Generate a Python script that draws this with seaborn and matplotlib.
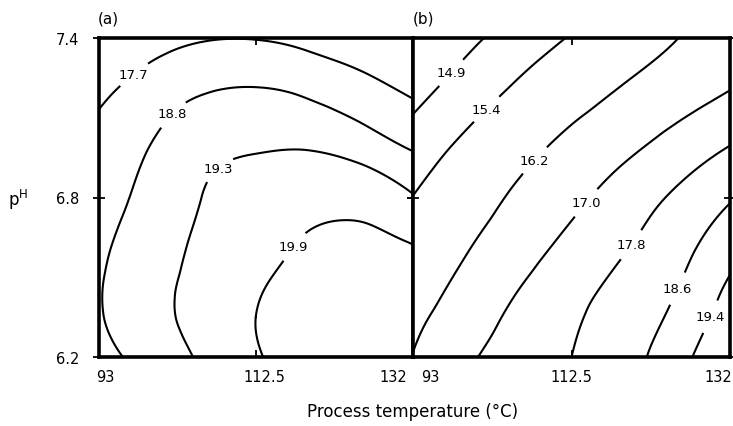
import numpy as np
import matplotlib
matplotlib.use("Agg")
import matplotlib.pyplot as plt
import matplotlib.tri as mtri
import matplotlib.transforms as mtrans
import seaborn as sns

sns.set_style("white")
plt.rcParams['font.family'] = ['DejaVu Sans']
plt.rcParams['text.color'] = 'black'

# response grids (rows: pH, columns: process temperature)
temps = [93, 99.5, 106, 112.5, 119, 125.5, 132]
ph_a = [6.2, 6.35, 6.5, 6.65, 6.8, 6.95, 7.1, 7.25, 7.4]
ph_b = [6.2, 6.4, 6.6, 6.8, 7.0, 7.2, 7.4]

response_a = [
    [18.66, 18.97, 19.39, 19.84, 20.22, 20.36, 20.02],
    [18.76, 19.13, 19.50, 19.90, 20.25, 20.41, 20.17],
    [18.76, 19.12, 19.46, 19.80, 20.10, 20.25, 20.05],
    [18.68, 19.06, 19.38, 19.67, 19.93, 20.02, 19.84],
    [18.51, 18.98, 19.31, 19.54, 19.68, 19.67, 19.34],
    [18.25, 18.87, 19.22, 19.32, 19.36, 19.23, 18.90],
    [17.81, 18.62, 19.02, 19.12, 19.02, 18.73, 18.15],
    [17.04, 18.07, 18.55, 18.64, 18.42, 17.91, 17.08],
    [15.71, 17.01, 17.60, 17.65, 17.28, 16.55, 15.44],
]
response_b = [
    [16.22, 16.87, 17.36, 17.80, 18.31, 19.10, 20.25],
    [15.98, 16.50, 17.10, 17.62, 18.13, 18.69, 19.71],
    [15.71, 16.17, 16.70, 17.24, 17.77, 18.36, 19.13],
    [15.41, 15.84, 16.33, 16.82, 17.35, 17.93, 18.53],
    [15.10, 15.50, 15.93, 16.38, 16.80, 17.28, 17.78],
    [14.75, 15.12, 15.50, 15.89, 16.27, 16.64, 17.01],
    [14.46, 14.79, 15.11, 15.44, 15.81, 16.19, 16.57],
]

levels_a = [17.7, 18.8, 19.3, 19.9]
levels_b = [14.9, 15.4, 16.2, 17.0, 17.8, 18.6, 19.4]

# approximate label locations (temperature, pH)
label_pos_a = [(97.2, 7.27), (102.3, 7.11), (108.7, 6.88), (116.2, 6.64)]
label_pos_b = [(98.2, 7.255), (101.8, 7.14), (107.8, 6.945), (114.7, 6.77),
               (120.4, 6.61), (126.8, 6.44), (129.7, 6.35)]

x_ticks = [93, 112.5, 132]
x_ticklabels = ['93', '112.5', '132']
y_ticks = [6.2, 6.8, 7.4]
y_ticklabels = ['6.2', '6.8', '7.4']

W, H = 733, 427
fig = plt.figure(figsize=(W / 100, H / 100), dpi=100)
axa = fig.add_axes([98.5 / W, 1 - 358 / H, (413 - 98.5) / W, (358 - 39) / H])
axb = fig.add_axes([413 / W, 1 - 358 / H, (730 - 413) / W, (358 - 39) / H])


def draw(ax, ph, z, levels, manual):
    # smooth the grid with matplotlib's cubic refiner in grid-index space,
    # then map back onto the temperature / pH scales
    ii, jj = np.meshgrid(np.arange(len(temps)), np.arange(len(ph)))
    tri = mtri.Triangulation(ii.ravel().astype(float), jj.ravel().astype(float))
    ref = mtri.UniformTriRefiner(tri)
    tr, zr = ref.refine_field(np.asarray(z, float).ravel(), subdiv=4)
    xr = np.interp(tr.x, np.arange(len(temps)), temps)
    yr = np.interp(tr.y, np.arange(len(ph)), ph)
    tri_data = mtri.Triangulation(xr, yr, tr.triangles)
    cs = ax.tricontour(tri_data, zr, levels=levels, colors='k', linewidths=1.5)
    texts = ax.clabel(cs, levels=levels, manual=manual, inline=True, inline_spacing=3,
                      fmt='%.1f', fontsize=9.5)
    for t in texts:
        t.set_rotation(0)
    ax.set_xlim(93, 132)
    ax.set_ylim(6.2, 7.4)


draw(axa, ph_a, response_a, levels_a, label_pos_a)
draw(axb, ph_b, response_b, levels_b, label_pos_b)

for ax in (axa, axb):
    ax.set_xticks(x_ticks)
    ax.set_xticklabels(x_ticklabels)
    ax.set_yticks(y_ticks)
    ax.set_yticklabels(y_ticklabels)
    ax.tick_params(axis='x', direction='in', length=5, width=1.3, top=True, bottom=True,
                   labelsize=10.5, pad=9, colors='k')
    ax.tick_params(axis='y', direction='inout', length=8, width=1.3, left=True, right=True,
                   labelsize=10.5, pad=10, colors='k')
    for sp in ax.spines.values():
        sp.set_linewidth(2.6)
        sp.set_color('k')
    ax.set_facecolor('white')

axb.tick_params(axis='y', labelleft=False)


def shift(label, dx_px):
    label.set_transform(label.get_transform() + mtrans.ScaledTranslation(dx_px / 100, 0, fig.dpi_scale_trans))


for ax, d0, d2 in ((axa, -2, -6), (axb, 8, 2)):
    labs = ax.get_xticklabels()
    labs[0].set_ha('left'); shift(labs[0], d0)
    labs[2].set_ha('right'); shift(labs[2], d2)
shift(axa.get_xticklabels()[1], 9)

fig.text(98 / W, 1 - 19 / H, '(a)', ha='left', va='center', fontsize=11)
fig.text(413 / W, 1 - 19 / H, '(b)', ha='left', va='center', fontsize=11)
fig.text(413 / W, 1 - 412 / H, 'Process temperature (°C)', ha='center', va='center', fontsize=12)
fig.text(8 / W, 1 - 200 / H, r'p$^{\mathrm{H}}$', ha='left', va='center', fontsize=12)

fig.savefig("out.png", dpi=100, facecolor='white')
